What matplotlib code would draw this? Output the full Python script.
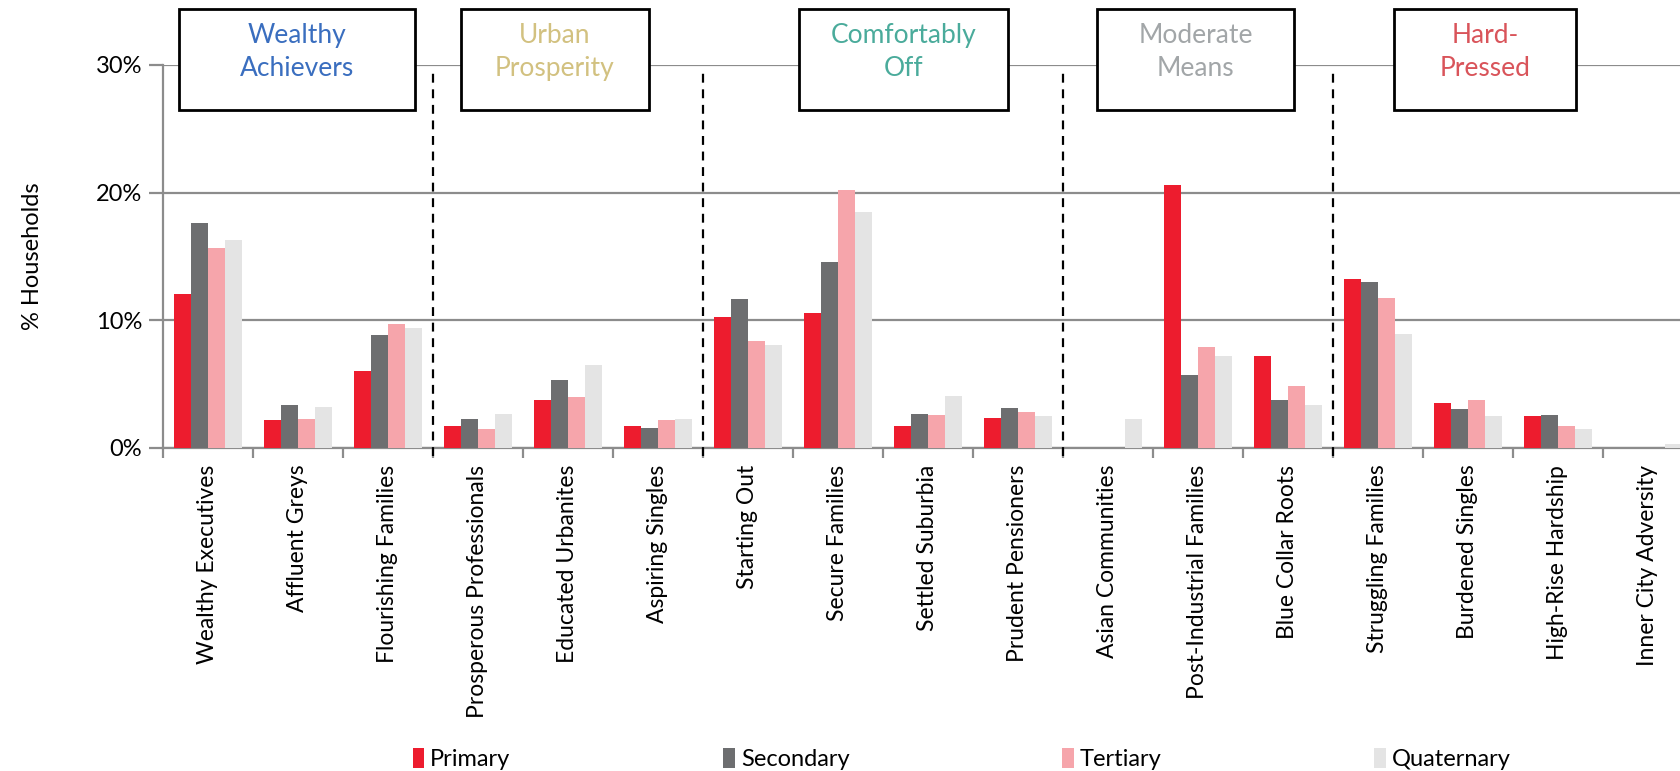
import matplotlib
matplotlib.use('Agg')
import matplotlib.pyplot as plt
from matplotlib.patches import Rectangle, Patch
import numpy as np

plt.rcParams['font.family'] = ['Lato', 'DejaVu Sans']

categories = ['Wealthy Executives', 'Affluent Greys', 'Flourishing Families',
              'Prosperous Professionals', 'Educated Urbanites', 'Aspiring Singles',
              'Starting Out', 'Secure Families', 'Settled Suburbia', 'Prudent Pensioners',
              'Asian Communities', 'Post-Industrial Families', 'Blue Collar Roots',
              'Struggling Families', 'Burdened Singles', 'High-Rise Hardship',
              'Inner City Adversity']
primary = [12.1, 2.2, 6.0, 1.7, 3.75, 1.75, 10.3, 10.55, 1.7, 2.35,
           0.0, 20.6, 7.2, 13.2, 3.55, 2.5, 0.0]
secondary = [17.6, 3.4, 8.85, 2.3, 5.3, 1.6, 11.7, 14.6, 2.7, 3.1,
             0.0, 5.75, 3.75, 13.0, 3.05, 2.55, 0.0]
tertiary = [15.7, 2.3, 9.75, 1.5, 4.0, 2.2, 8.35, 20.2, 2.55, 2.8,
            0.0, 7.9, 4.85, 11.75, 3.75, 1.75, 0.0]
quaternary = [16.3, 3.2, 9.4, 2.7, 6.5, 2.25, 8.05, 18.45, 4.05, 2.5,
              2.3, 7.2, 3.35, 8.9, 2.5, 1.45, 0.3]
series_names = ['Primary', 'Secondary', 'Tertiary', 'Quaternary']
colors = ['#ED1C2E', '#6D6E70', '#F6A5AB', '#E4E4E4']

groups = ['Wealthy\nAchievers', 'Urban\nProsperity', 'Comfortably\nOff',
          'Moderate\nMeans', 'Hard-\nPressed']
group_colors = ['#3A6EBF', '#D2C180', '#4AAB9B', '#A2A6A8', '#D9545A']
group_bounds = [3, 6, 10, 13]
box_spans = [(0.18, 2.8), (3.31, 5.4), (7.07, 9.39), (10.38, 12.57), (13.68, 15.7)]

GRID = '#8C8C8C'


def main():
    fig = plt.figure(figsize=(16.81, 7.71), dpi=100)
    ax = fig.add_axes([163 / 1681, 323 / 771, 1530 / 1681, 383 / 771])

    x = np.arange(len(categories)) + 0.5
    w = 0.19
    data = [primary, secondary, tertiary, quaternary]
    for k, (vals, c) in enumerate(zip(data, colors)):
        ax.bar(x + (k - 1.5) * w, vals, width=w, color=c, zorder=3)

    ax.set_xlim(0, len(categories))
    ax.set_ylim(0, 30)
    ax.set_yticks([0, 10, 20, 30])
    ax.set_yticklabels([f'{v}%' for v in [0, 10, 20, 30]], fontsize=17)
    ax.yaxis.grid(True, color=GRID, lw=1.6, zorder=0)
    ax.set_axisbelow(True)

    ax.set_xticks(np.arange(len(categories) + 1))
    ax.set_xticklabels([])
    ax.set_xticks(x, minor=True)
    ax.set_xticklabels(categories, minor=True, rotation=90, fontsize=16.5,
                       va='top', ha='center')
    ax.tick_params(axis='x', which='major', length=7, color=GRID, width=1.6)
    ax.tick_params(axis='x', which='minor', length=0, pad=12)
    ax.tick_params(axis='y', length=10, color=GRID, width=1.6, pad=5)

    for s in ['top', 'right']:
        ax.spines[s].set_visible(False)
    for s in ['left', 'bottom']:
        ax.spines[s].set_color(GRID)
        ax.spines[s].set_linewidth(1.6)

    ax.set_ylabel('% Households', fontsize=17, labelpad=38)

    # group dividers
    for b in group_bounds:
        ax.plot([b, b], [-0.6, 29.6], color='black', lw=1.6,
                ls=(0, (4, 3)), clip_on=False, zorder=4)

    # group header boxes
    for (x0, x1), name, c in zip(box_spans, groups, group_colors):
        ax.add_patch(Rectangle((x0, 26.5), x1 - x0, 7.9, facecolor='white',
                               edgecolor='black', lw=2, clip_on=False, zorder=5))
        ax.text((x0 + x1) / 2, 31.0, name, color=c, fontsize=19,
                ha='center', va='center', linespacing=1.4, zorder=6)

    handles = [Patch(facecolor=c, edgecolor='none') for c in colors]
    fig.legend(handles, series_names, loc='center', bbox_to_anchor=(0.572, 0.015),
               ncol=4, frameon=False, fontsize=17, handlelength=0.5,
               handleheight=0.9, handletextpad=0.25, columnspacing=9.0)

    fig.savefig('out.png', dpi=100)


if __name__ == '__main__':
    main()
